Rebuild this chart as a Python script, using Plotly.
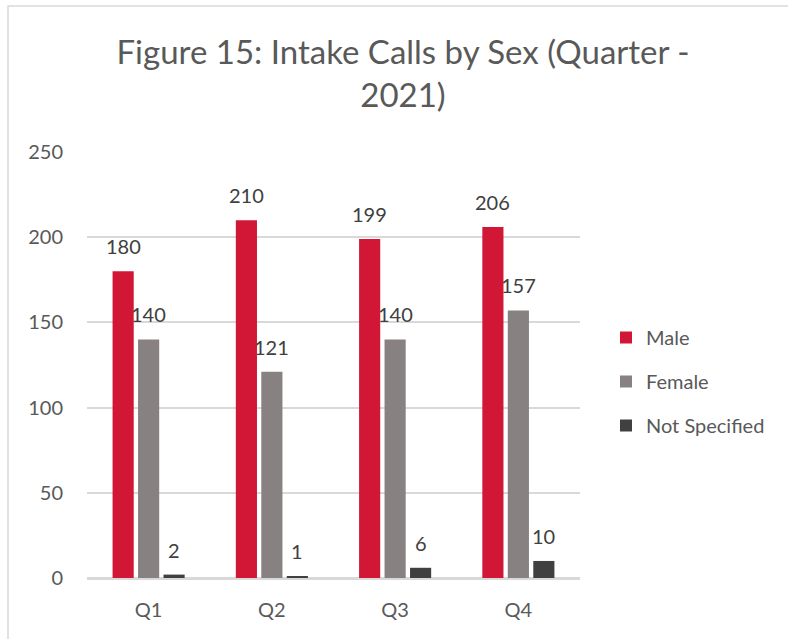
import plotly.graph_objects as go

quarters = ["Q1", "Q2", "Q3", "Q4"]
male = [180, 210, 199, 206]
female = [140, 121, 140, 157]
not_specified = [2, 1, 6, 10]

series = [
    ("Male", male, "#D21636"),
    ("Female", female, "#878181"),
    ("Not Specified", not_specified, "#404040"),
]

FONT = "Lato, 'Open Sans', sans-serif"

L, R, T, B = 87, 208, 152, 61
W, H = 788, 639
pw, ph = W - L - R, H - T - B
BARGAP, GROUPGAP = 0.38, 0.17
slot_px = pw / len(quarters) * (1 - BARGAP) / len(series)

fig = go.Figure()
annotations = []
for i, (name, vals, color) in enumerate(series):
    fig.add_trace(go.Bar(
        x=quarters, y=vals, name=name, marker_color=color,
        marker_line_width=0, legendgroup=f"g{i}", hoverinfo="x+y+name",
    ))
    for q, v in zip(quarters, vals):
        annotations.append(dict(
            x=q, y=v, xref="x", yref="y", text=str(v), showarrow=False,
            xanchor="center", yanchor="bottom",
            xshift=(i - (len(series) - 1) / 2) * slot_px, yshift=11,
            font=dict(size=20, color="#404040", family=FONT),
        ))

fig.update_layout(
    width=W, height=H,
    margin=dict(l=L, r=R, t=T, b=B, pad=0),
    paper_bgcolor="white", plot_bgcolor="white",
    font=dict(family=FONT, color="#595959", size=19),
    barmode="group", bargap=BARGAP, bargroupgap=GROUPGAP,
    title=dict(
        text="Figure 15: Intake Calls by Sex (Quarter -<br>2021)",
        x=403 / W, xref="container", xanchor="center",
        y=1 - 64 / H, yref="container", yanchor="middle",
        font=dict(size=33, color="#595959", family=FONT),
    ),
    legend=dict(
        x=(606 - L) / pw, xanchor="left",
        y=(T + ph - 318) / ph, yanchor="top",
        font=dict(size=20, color="#595959", family=FONT),
        traceorder="grouped", tracegroupgap=15,
        bgcolor="rgba(0,0,0,0)",
    ),
    showlegend=True,
    annotations=annotations,
    shapes=[dict(
        type="rect", xref="paper", yref="paper",
        x0=(8 - L) / pw, x1=(830 - L) / pw,
        y0=-(700 - (T + ph)) / ph, y1=1 + (T - 6) / ph,
        line=dict(color="#D9D9D9", width=1.5), fillcolor="rgba(0,0,0,0)",
        layer="below",
    )],
)

fig.update_yaxes(
    range=[0, 250], dtick=50, showgrid=True, gridcolor="#D9D9D9", gridwidth=1.5,
    zeroline=True, zerolinecolor="#D9D9D9", zerolinewidth=1.5,
    showline=False, ticks="outside", ticklen=19, tickcolor="rgba(0,0,0,0)",
    tickfont=dict(size=20, color="#595959"),
)
fig.update_xaxes(
    showline=True, linecolor="#D9D9D9", linewidth=1.5,
    ticks="outside", ticklen=13, tickcolor="rgba(0,0,0,0)",
    tickfont=dict(size=20, color="#595959"),
)

fig.write_html("out.html", config={"displayModeBar": False},
               post_script="document.body.style.margin='0';")
